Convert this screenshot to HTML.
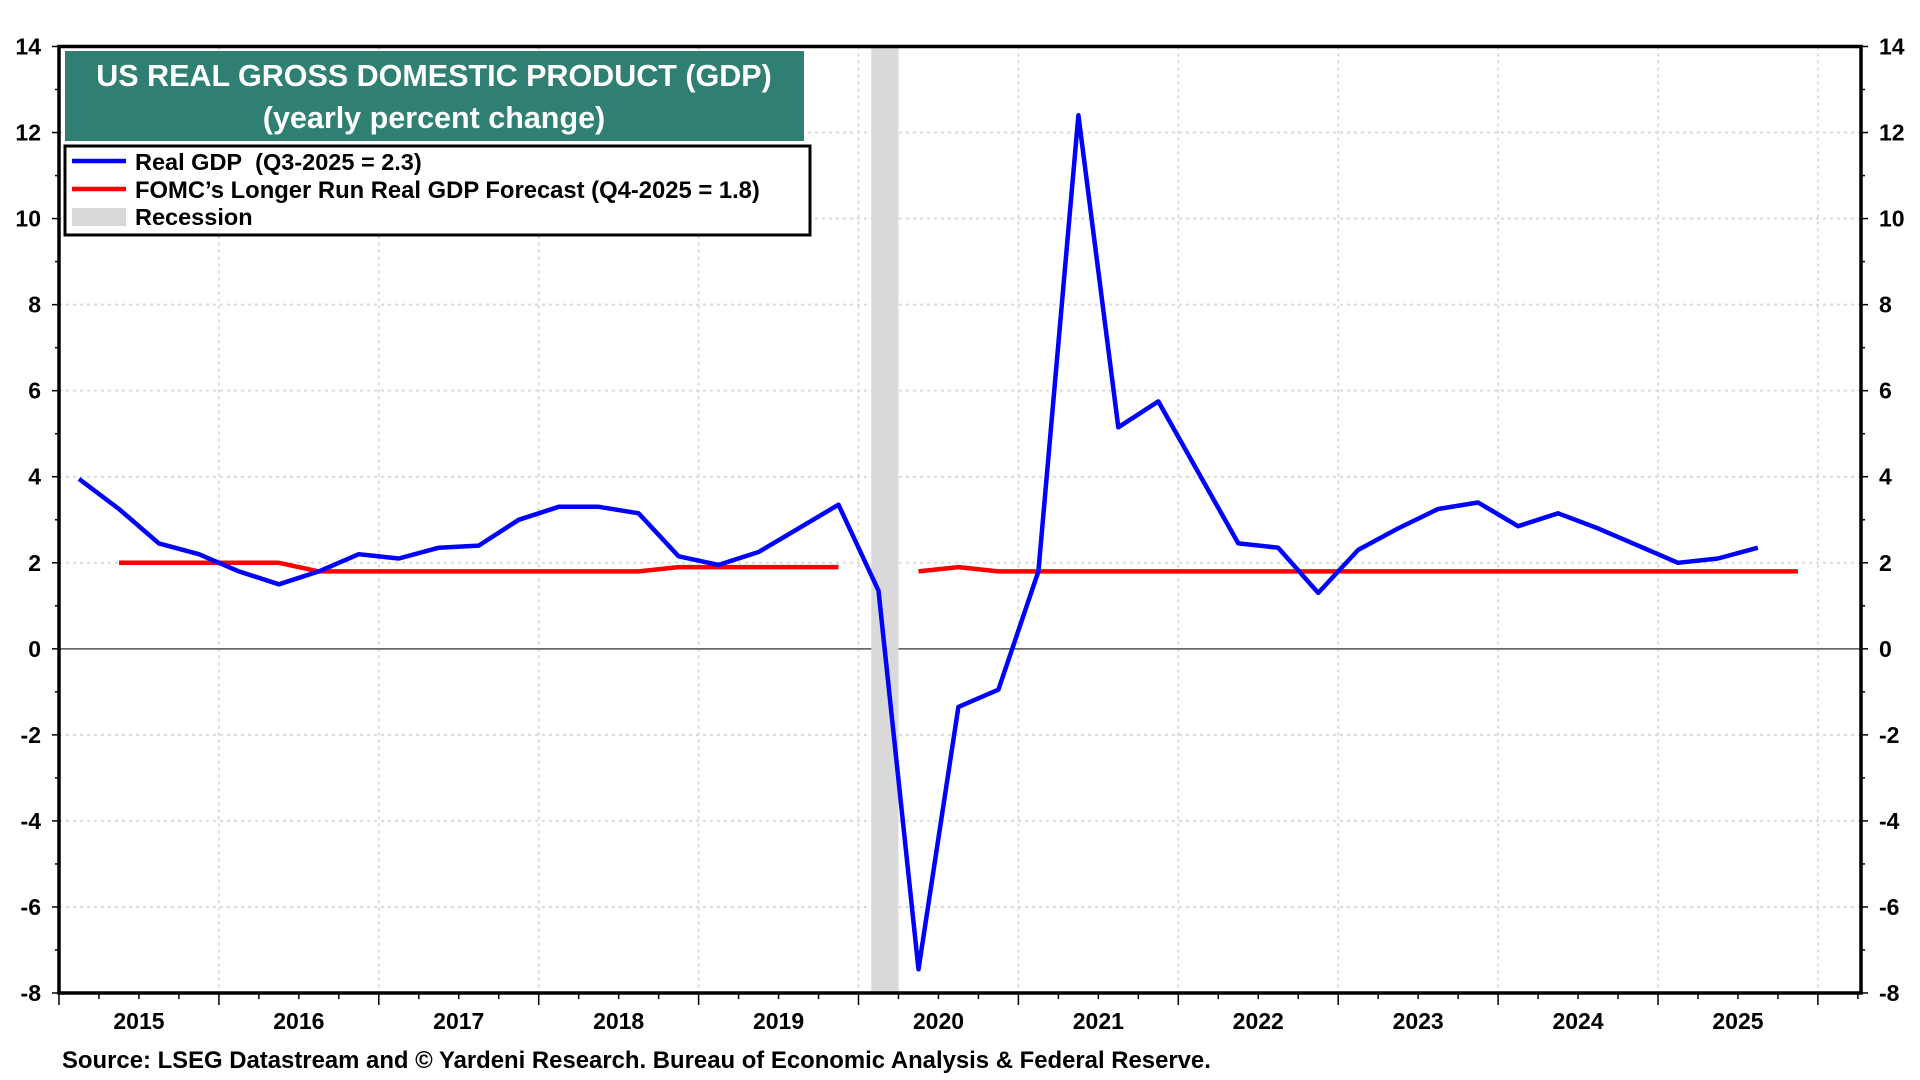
<!DOCTYPE html>
<html><head><meta charset="utf-8"><style>
body{margin:0;background:#fff;}
svg{display:block;font-family:"Liberation Sans",Arial,sans-serif;font-weight:bold;}
</style></head><body>
<svg id="chart" width="1920" height="1080" viewBox="0 0 1920 1080" xmlns="http://www.w3.org/2000/svg">
<g id="grid"></g>
<g id="recession"></g>
<g id="series"></g>
<g id="axes"></g>
<g>
<rect x="65" y="51" width="739" height="90" fill="#2f7f72"/>
<text x="434" y="86" text-anchor="middle" fill="#fff" font-size="30.5">US REAL GROSS DOMESTIC PRODUCT (GDP)</text>
<text x="434" y="128" text-anchor="middle" fill="#fff" font-size="30.5">(yearly percent change)</text>
</g>
<g>
<rect x="65" y="146" width="745" height="89" fill="#fff" stroke="#000" stroke-width="3"/>
<g>
<line x1="72" y1="161" x2="126" y2="161" stroke="#0000ff" stroke-width="4.5"/>
<text x="135" y="170" font-size="23.5">Real GDP&#160; (Q3-2025 = 2.3)</text></g>
<g>
<line x1="72" y1="189" x2="126" y2="189" stroke="#ff0000" stroke-width="4.5"/>
<text x="135" y="198" font-size="23.8">FOMC’s Longer Run Real GDP Forecast (Q4-2025 = 1.8)</text></g>
<g>
<rect x="72" y="208" width="54" height="18" fill="#d9d9d9"/>
<text x="135" y="225" font-size="23.5">Recession</text></g>
</g>
<text x="62" y="1068" font-size="23.9">Source: LSEG Datastream and © Yardeni Research. Bureau of Economic Analysis &amp; Federal Reserve.</text>
</svg>
<script>
const gdpValues=[3.95,3.25,2.45,2.2,1.8,1.5,1.8,2.2,2.1,2.35,2.4,3.0,3.3,3.3,3.15,2.15,1.95,2.25,2.8,3.35,1.35,-7.45,-1.35,-0.95,1.8,12.4,5.15,5.75,4.1,2.45,2.35,1.3,2.3,2.8,3.25,3.4,2.85,3.15,2.8,2.4,2.0,2.1,2.35];
const fomcValues=[null,2.0,2.0,2.0,2.0,2.0,1.8,1.8,1.8,1.8,1.8,1.8,1.8,1.8,1.8,1.9,1.9,1.9,1.9,1.9,null,1.8,1.9,1.8,1.8,1.8,1.8,1.8,1.8,1.8,1.8,1.8,1.8,1.8,1.8,1.8,1.8,1.8,1.8,1.8,1.8,1.8,1.8,1.8];
const startQuarter=2015.125;
const yearLabels=[2015,2016,2017,2018,2019,2020,2021,2022,2023,2024,2025];
const yTicks=[14,12,10,8,6,4,2,0,-2,-4,-6,-8];
const recessions=[[2020.08,2020.25]];
const NS='http://www.w3.org/2000/svg';
const L=59,R=1861,T=46.5,B=993;
const x=t=>59+(t-2015)*159.9;
const y=v=>T+(14-v)*(B-T)/22;
function mk(tag,attrs,parent){const e=document.createElementNS(NS,tag);for(const k in attrs)e.setAttribute(k,attrs[k]);parent.appendChild(e);return e;}
const grid=document.getElementById('grid'),axes=document.getElementById('axes'),ser=document.getElementById('series'),rec=document.getElementById('recession');
yTicks.forEach(v=>{if(v!==0&&v!==14&&v!==-8){const g=mk('line',{x1:L,x2:R,y1:y(v),y2:y(v),stroke:'#dadada','stroke-width':2,'stroke-dasharray':'3,4'},grid);

}});
for(let yr=2016;yr<=2026;yr++){const g=mk('line',{x1:x(yr),x2:x(yr),y1:T,y2:B,stroke:'#dadada','stroke-width':2,'stroke-dasharray':'3,4'},grid);

}
recessions.forEach(r=>{const e=mk('rect',{x:x(r[0]),y:T,width:x(r[1])-x(r[0]),height:B-T,fill:'#d9d9d9'},rec);

});
const z=mk('line',{x1:L,x2:R,y1:y(0),y2:y(0),stroke:'#555','stroke-width':1.5},grid);


function path(vals,color,name){let d='',pen=false;vals.forEach((v,i)=>{if(v===null){pen=false;return;}const px=x(startQuarter+i*0.25),py=y(v);d+=(pen?'L':'M')+px.toFixed(1)+','+py.toFixed(1);pen=true;});
const p=mk('path',{d:d,fill:'none',stroke:color,'stroke-width':4.5,'stroke-linejoin':'round'},ser);

}
path(fomcValues,'#ff0000','fomc-forecast-line');
path(gdpValues,'#0000ff','real-gdp-line');
const frame=mk('rect',{x:L,y:T,width:R-L,height:B-T,fill:'none',stroke:'#000','stroke-width':3.5},axes);


for(let v=-8;v<=14;v++){const major=v%2===0;
mk('line',{x1:L-(major?7:4),x2:L,y1:y(v),y2:y(v),stroke:'#000','stroke-width':1.5},axes);
mk('line',{x1:R,x2:R+(major?7:4),y1:y(v),y2:y(v),stroke:'#000','stroke-width':1.5},axes);}
yTicks.forEach(v=>{const a=mk('text',{x:41,y:y(v)+8,'text-anchor':'end','font-size':23},axes);a.textContent=v;


const b=mk('text',{x:1879,y:y(v)+8,'font-size':23},axes);b.textContent=v;

});
for(let q=0;q<=45;q++){const t=2015+q*0.25;if(x(t)>R+1)break;const major=q%4===0;
mk('line',{x1:x(t),x2:x(t),y1:B,y2:B+(major?12:6),stroke:'#000','stroke-width':1.5},axes);}
yearLabels.forEach(yr=>{const a=mk('text',{x:x(yr+0.5),y:1029,'text-anchor':'middle','font-size':23},axes);a.textContent=yr;

});
</script>
</body></html>
